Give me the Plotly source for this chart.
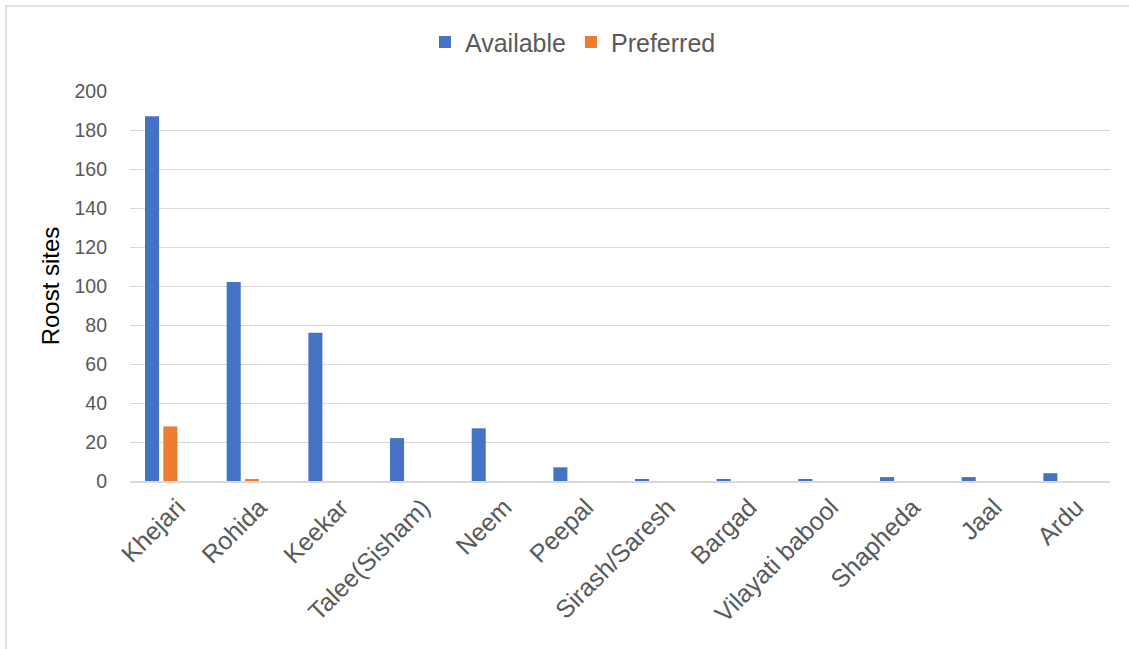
import plotly.graph_objects as go

categories = ["Khejari", "Rohida", "Keekar", "Talee(Sisham)", "Neem", "Peepal",
              "Sirash/Saresh", "Bargad", "Vilayati babool", "Shapheda", "Jaal", "Ardu"]
available = [187, 102, 76, 22, 27, 7, 1, 1, 1, 2, 2, 4]
preferred = [28, 1, 0, 0, 0, 0, 0, 0, 0, 0, 0, 0]

FONT = "Liberation Sans, Arial, sans-serif"
GRAY = "#595959"

fig = go.Figure()
fig.add_trace(go.Bar(x=categories, y=available, name="Available",
                     marker=dict(color="#4472C4", line=dict(width=0)),
                     width=0.172, offset=-0.316))
fig.add_trace(go.Bar(x=categories, y=preferred, name="Preferred",
                     marker=dict(color="#ED7D31", line=dict(width=0)),
                     width=0.172, offset=-0.092))

fig.update_layout(
    width=1129, height=649,
    margin=dict(l=130, r=19, t=91, b=168),
    paper_bgcolor="white", plot_bgcolor="white",
    font=dict(family=FONT, color=GRAY),
    barmode="group",
    showlegend=True,
    legend=dict(orientation="h", x=0.452, xanchor="center", y=1.125, yanchor="middle",
                font=dict(size=25, color=GRAY), itemwidth=30, traceorder="normal"),
    xaxis=dict(type="category", tickangle=-45, tickfont=dict(size=25, color=GRAY),
               showgrid=False, showline=True, linecolor="#d9d9d9", linewidth=1.5,
               ticks="", range=[-0.5, 11.5], ticklabelshift=7),
    yaxis=dict(range=[0, 200], dtick=20, tickfont=dict(size=19.5, color=GRAY),
               showgrid=True, gridcolor="#d9d9d9", gridwidth=1.2, zeroline=False,
               ticklabelstandoff=22,
               title=dict(text="Roost sites", font=dict(size=24, color="#000000"), standoff=8)),
    shapes=[dict(type="rect", xref="paper", yref="paper",
                 x0=-0.1265, x1=1.1, y0=-0.6, y1=1.218,
                 line=dict(color="#d9d9d9", width=1.5), fillcolor="rgba(0,0,0,0)", layer="below")],
)

fig.write_html("out.html")
